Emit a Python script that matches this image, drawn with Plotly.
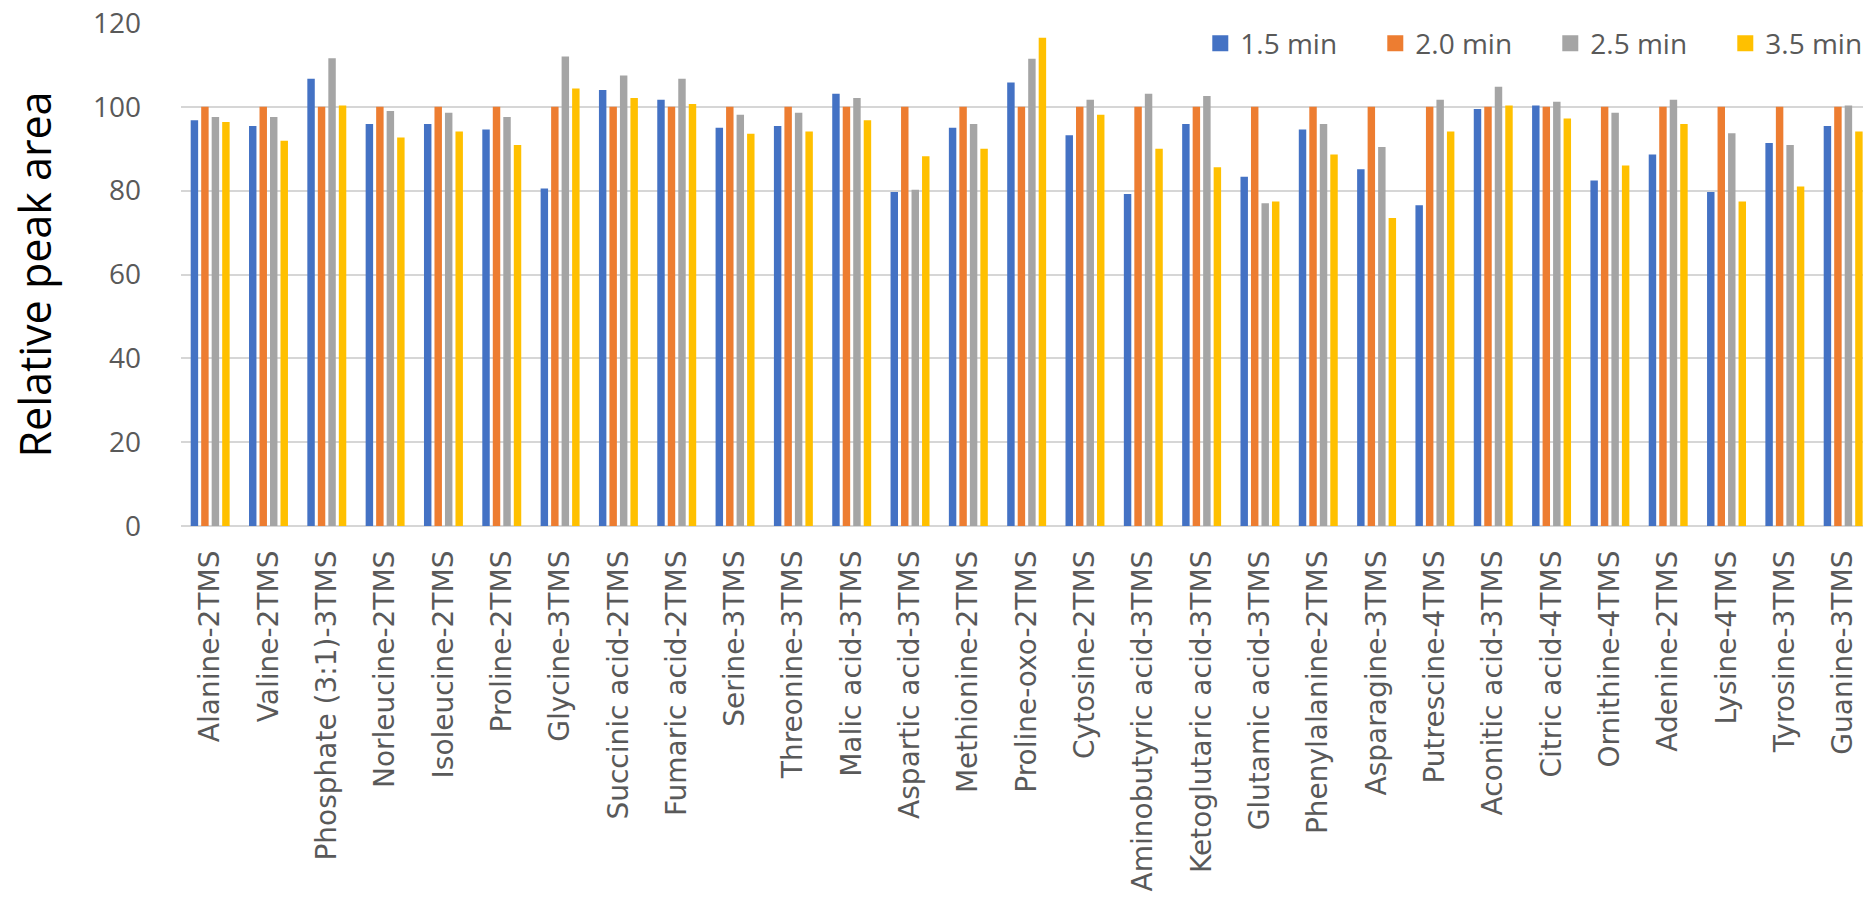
import plotly.graph_objects as go

# Derivatised metabolites (TMS derivatives)
categories = [
    "Alanine-2TMS", "Valine-2TMS", "Phosphate (3:1)-3TMS", "Norleucine-2TMS",
    "Isoleucine-2TMS", "Proline-2TMS", "Glycine-3TMS", "Succinic acid-2TMS",
    "Fumaric acid-2TMS", "Serine-3TMS", "Threonine-3TMS", "Malic acid-3TMS",
    "Aspartic acid-3TMS", "Methionine-2TMS", "Proline-oxo-2TMS", "Cytosine-2TMS",
    "Aminobutyric acid-3TMS", "Ketoglutaric acid-3TMS", "Glutamic acid-3TMS",
    "Phenylalanine-2TMS", "Asparagine-3TMS", "Putrescine-4TMS",
    "Aconitic acid-3TMS", "Citric acid-4TMS", "Ornithine-4TMS", "Adenine-2TMS",
    "Lysine-4TMS", "Tyrosine-3TMS", "Guanine-3TMS",
]

# Relative peak area per derivatisation time (2.0 min = 100)
min_1_5 = [96.8, 95.4, 106.7, 95.9, 95.9, 94.6, 80.5, 104.0, 101.7, 95.0,
           95.4, 103.1, 79.7, 95.0, 105.8, 93.2, 79.2, 95.9, 83.3, 94.6,
           85.1, 76.5, 99.5, 100.3, 82.4, 88.6, 79.7, 91.4, 95.4]
min_2_0 = [100, 100, 100, 100, 100, 100, 100, 100, 100, 100,
           100, 100, 100, 100, 100, 100, 100, 100, 100, 100,
           100, 100, 100, 100, 100, 100, 100, 100, 100]
min_2_5 = [97.6, 97.6, 111.6, 99.0, 98.6, 97.6, 112.0, 107.5, 106.7, 98.1,
           98.6, 102.1, 80.2, 95.9, 111.5, 101.7, 103.1, 102.6, 77.0, 95.9,
           90.4, 101.7, 104.8, 101.2, 98.6, 101.7, 93.7, 90.9, 100.3]
min_3_5 = [96.4, 91.9, 100.3, 92.7, 94.1, 90.9, 104.4, 102.1, 100.7, 93.6,
           94.1, 96.8, 88.2, 90.0, 116.5, 98.1, 90.0, 85.6, 77.4, 88.6,
           73.5, 94.1, 100.3, 97.2, 86.0, 95.9, 77.4, 81.0, 94.1]

series_names = ["1.5 min", "2.0 min", "2.5 min", "3.5 min"]
series_values = [min_1_5, min_2_0, min_2_5, min_3_5]
series_colors = ["#4472C4", "#ED7D31", "#A5A5A5", "#FFC000"]

y_ticks = [0, 20, 40, 60, 80, 100, 120]

fig = go.Figure()

for name, vals, color in zip(series_names, series_values, series_colors):
    fig.add_trace(go.Bar(
        x=categories, y=vals, name=name,
        marker=dict(color=color, line=dict(width=0)),
        showlegend=False,
    ))

# Legend entries with larger square swatches
for name, color in zip(series_names, series_colors):
    fig.add_trace(go.Scatter(
        x=[None], y=[None], name=name, mode="markers",
        marker=dict(symbol="square", size=16, color=color),
    ))

tick_font = dict(family="Open Sans", size=28, color="#595959")

fig.update_layout(
    width=1863, height=899,
    margin=dict(l=181, r=0, t=23, b=373, pad=0, autoexpand=False),
    paper_bgcolor="white", plot_bgcolor="white",
    barmode="group", bargap=0.28, bargroupgap=0.29,
    showlegend=True,
    legend=dict(
        orientation="h", x=0.606, xanchor="left", y=0.959, yanchor="middle",
        font=dict(family="Open Sans", size=28, color="#595959"),
        bgcolor="rgba(0,0,0,0)", entrywidth=130, entrywidthmode="pixels",
        itemclick=False, traceorder="normal",
    ),
    xaxis=dict(
        type="category", categoryorder="array", categoryarray=categories,
        range=[-0.5, 28.34],
        tickangle=-90, tickfont=dict(family="DejaVu Sans", size=28, color="#595959"),
        showgrid=False, zeroline=False, showline=False, ticks="",
        ticklabelstandoff=18,
    ),
    yaxis=dict(
        range=[0, 120], tickvals=y_ticks, ticktext=[str(v) for v in y_ticks],
        tickfont=tick_font, ticks="", ticklabelstandoff=39,
        showgrid=True, gridcolor="#d6d6d6", gridwidth=2,
        zeroline=True, zerolinecolor="#d6d6d6", zerolinewidth=2,
        showline=False,
        title=dict(text="Relative peak area",
                   font=dict(family="Open Sans", size=43, color="black"),
                   standoff=27),
    ),
)

fig.write_html("out.html")
